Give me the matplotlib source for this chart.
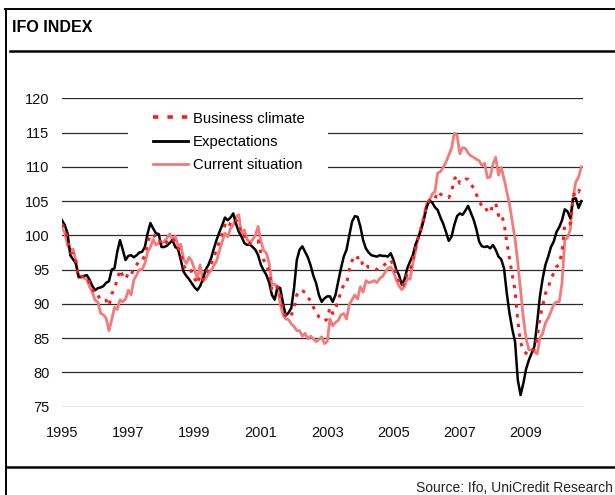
#!/usr/bin/env python3
# coding: utf-8

import numpy as np
import matplotlib
matplotlib.use('Agg')
import matplotlib.pyplot as plt
from matplotlib.lines import Line2D
from matplotlib.patches import Rectangle

plt.rcParams['font.family'] = ['Liberation Sans', 'DejaVu Sans']

# Monthly values, Jan 1995 .. Sep 2010
expectations = [
    102.2, 101.5, 100.3, 97.1, 96.5, 95.9, 94.0, 93.9, 94.1, 94.2, 93.5, 92.6,
    92.0, 92.3, 92.4, 92.6, 93.1, 93.3, 95.0, 95.2, 97.6, 99.3, 97.9, 96.4,
    97.0, 97.1, 96.8, 97.1, 97.5, 97.6, 98.3, 100.3, 101.8, 101.0, 100.3, 100.2,
    98.3, 98.3, 98.5, 98.9, 99.3, 98.3, 98.0, 96.4, 94.7, 94.1, 93.6, 93.0,
    92.4, 92.0, 92.6, 93.6, 95.0, 95.7, 96.7, 98.1, 99.4, 100.5, 101.5, 102.6,
    102.2, 102.6, 103.2, 101.7, 100.5, 99.8, 98.9, 98.6, 98.7, 98.3, 97.9, 97.1,
    95.7, 94.9, 94.2, 93.1, 91.3, 90.6, 92.5, 92.3, 90.1, 88.3, 88.7, 89.4,
    92.3, 96.4, 97.9, 98.4, 97.6, 96.8, 95.6, 94.1, 93.0, 91.3, 90.3, 90.8,
    91.1, 91.1, 90.3, 91.3, 93.3, 95.2, 96.9, 97.9, 100.0, 102.0, 102.8, 102.7,
    101.3, 99.3, 98.1, 97.5, 97.1, 97.0, 96.9, 97.1, 97.0, 97.0, 96.9, 97.4,
    96.4, 95.0, 94.2, 92.8, 93.6, 95.2, 96.2, 97.1, 98.7, 99.7, 100.8, 102.3,
    104.1, 105.1, 104.8, 104.1, 103.7, 102.6, 101.7, 100.5, 99.2, 99.8, 101.5, 102.8,
    103.2, 103.0, 103.6, 104.3, 103.3, 102.3, 100.9, 99.1, 98.4, 98.3, 98.4, 98.1,
    98.6, 97.9, 96.9, 96.5, 95.2, 91.6, 88.6, 86.3, 84.5, 78.9, 76.7, 78.4,
    80.5, 81.8, 82.8, 83.8, 87.2, 91.1, 93.7, 95.7, 96.9, 98.3, 99.1, 100.5,
    101.2, 102.2, 103.8, 103.5, 102.5, 105.3, 105.4, 104.0, 105.0,
]

current = [
    101.0, 100.4, 98.6, 97.9, 98.0, 96.4, 93.8, 94.0, 93.8, 93.5, 92.5, 91.7,
    90.5, 90.3, 88.6, 88.4, 87.9, 86.1, 87.7, 89.5, 89.2, 90.6, 90.3, 90.7,
    92.0, 91.3, 93.5, 94.2, 95.0, 95.0, 95.9, 97.6, 98.3, 99.4, 98.6, 98.9,
    98.8, 99.1, 99.6, 100.2, 99.4, 99.9, 98.4, 98.7, 96.5, 95.9, 96.8, 96.2,
    95.0, 93.7, 95.7, 93.3, 93.7, 94.4, 94.9, 95.6, 96.3, 97.8, 99.1, 100.3,
    99.8, 101.0, 101.5, 102.7, 103.0, 100.0, 100.8, 99.4, 98.9, 99.4, 100.0, 101.3,
    99.1, 97.8, 97.4, 95.9, 92.8, 92.9, 92.5, 90.0, 88.4, 87.8, 87.7, 87.1,
    86.7, 86.1, 86.1, 85.3, 85.7, 84.9, 85.3, 84.9, 84.5, 84.8, 85.2, 84.2,
    84.5, 87.8, 86.8, 87.3, 87.6, 88.4, 88.6, 87.8, 89.9, 90.6, 91.3, 90.7,
    92.5, 91.7, 93.4, 93.1, 93.2, 93.4, 93.1, 93.7, 94.0, 94.6, 95.2, 95.4,
    94.7, 93.5, 92.6, 92.1, 92.5, 93.7, 93.6, 95.9, 97.7, 99.8, 101.2, 102.8,
    104.6, 105.1, 106.0, 106.4, 109.1, 109.3, 109.9, 110.7, 111.7, 112.7, 114.9, 114.6,
    111.9, 112.8, 112.7, 112.0, 111.6, 111.4, 111.1, 110.9, 110.2, 110.5, 108.4, 108.5,
    110.4, 111.4, 108.8, 109.9, 108.3, 106.4, 104.5, 102.0, 99.5, 96.0, 92.0, 88.0,
    85.0, 83.3, 83.3, 83.0, 82.7, 85.0, 85.7, 87.2, 87.9, 88.9, 89.9, 90.3,
    90.3, 93.0, 99.3, 99.7, 100.8, 105.6, 107.8, 108.5, 110.0,
]

climate = [
    101.6, 101.0, 99.5, 97.5, 97.3, 96.2, 93.9, 94.0, 94.0, 93.9, 93.0, 92.2,
    91.3, 91.3, 90.5, 90.5, 90.5, 89.7, 91.4, 92.4, 93.4, 95.0, 94.1, 93.6,
    94.5, 94.2, 95.2, 95.7, 96.3, 96.3, 97.1, 99.0, 100.1, 100.2, 99.5, 99.6,
    98.6, 98.7, 99.1, 99.6, 99.4, 99.1, 98.2, 97.6, 95.6, 95.0, 95.2, 94.6,
    93.7, 92.9, 94.2, 93.5, 94.4, 95.1, 95.8, 96.9, 97.9, 99.2, 100.3, 101.5,
    101.0, 101.8, 102.4, 102.2, 101.8, 99.9, 99.9, 99.0, 98.8, 98.9, 99.0, 99.2,
    97.4, 96.4, 95.8, 94.5, 92.1, 91.8, 92.5, 91.2, 89.3, 88.1, 88.2, 88.3,
    89.5, 91.3, 92.0, 91.9, 91.7, 90.9, 90.5, 89.5, 88.8, 88.1, 87.8, 87.5,
    87.8, 89.5, 88.6, 89.3, 90.5, 91.8, 92.8, 92.9, 95.0, 96.3, 97.1, 96.7,
    96.9, 95.5, 95.8, 95.3, 95.2, 95.2, 95.0, 95.4, 95.5, 95.8, 96.1, 96.4,
    95.6, 94.3, 93.4, 92.5, 93.1, 94.5, 94.9, 96.5, 98.2, 99.8, 101.0, 102.6,
    104.4, 105.1, 105.4, 105.3, 106.4, 106.0, 105.8, 105.6, 105.5, 106.3, 108.2, 108.7,
    107.6, 107.9, 108.2, 108.2, 107.5, 106.9, 106.0, 105.0, 104.3, 104.4, 103.4, 103.3,
    104.5, 104.7, 102.9, 103.2, 101.8, 99.0, 96.6, 94.2, 92.0, 87.5, 84.4, 83.2,
    82.8, 82.6, 83.1, 83.4, 85.0, 88.1, 89.7, 91.5, 92.4, 93.6, 94.5, 95.4,
    95.8, 97.6, 101.6, 101.6, 101.7, 105.5, 106.6, 106.3, 107.5,
]

year_labels = ['1995', '1997', '1999', '2001', '2003', '2005', '2007', '2009']
y_ticks = [75, 80, 85, 90, 95, 100, 105, 110, 115, 120]

RED = '#ff1a1a'
PINK = '#f27b7b'

# ---------------------------------------------------------------------
W, H = 615, 495
fig = plt.figure(figsize=(W / 100, H / 100), dpi=100)
ax = fig.add_axes([62 / W, 1 - 406.7 / H, (583 - 62) / W, (406.7 - 98.3) / H])

x = np.arange(len(expectations))

ax.plot(x, current, color=PINK, lw=2.0, zorder=3, solid_joinstyle='round')
ax.plot(x, expectations, color='black', lw=1.8, zorder=4, solid_joinstyle='round')
ax.plot(x, climate, color=RED, lw=2.2, linestyle=(0, (1.1, 2.1)), zorder=5)

ax.set_xlim(0, 188.6)
ax.set_ylim(75, 120)
ax.set_yticks(y_ticks)
ax.set_xticks(np.arange(len(year_labels)) * 24)
ax.set_xticklabels(year_labels)
ax.yaxis.grid(True, color='#2a2a2a', lw=0.9)
ax.set_axisbelow(True)
for s in ax.spines.values():
    s.set_visible(False)
ax.tick_params(axis='both', length=0, labelsize=10.5, colors='#111111')
ax.tick_params(axis='x', pad=14)
ax.tick_params(axis='y', pad=9)

# legend area is blanked out like in the original
ax.add_patch(Rectangle((0.127, 0.74), 0.384, 0.245, transform=ax.transAxes,
                       facecolor='white', edgecolor='none', zorder=2))
handles = [
    Line2D([], [], color=RED, lw=2.6, linestyle=(0, (1.5, 2.5))),
    Line2D([], [], color='black', lw=2.0),
    Line2D([], [], color=PINK, lw=2.0),
]
ax.legend(handles, ['Business climate', 'Expectations', 'Current situation'],
          loc='upper left', bbox_to_anchor=(0.1747, 0.957), frameon=False,
          borderaxespad=0, borderpad=0, handlelength=2.35, handletextpad=0.35,
          labelspacing=0.62, fontsize=10.7)

# frame and title
def hline(y, x0, x1, lw):
    fig.add_artist(Line2D([x0 / W, x1 / W], [1 - y / H, 1 - y / H],
                          color='black', lw=lw))

hline(9, 5, W, 1.4)
hline(50.5, 10, W, 1.8)
hline(467, 7, W, 1.8)
fig.add_artist(Line2D([6 / W, 6 / W], [1 - 9 / H, 0], color='black', lw=1.4))

fig.text(12 / W, 1 - 27 / H, 'IFO INDEX', fontsize=11.5, fontweight='bold',
         va='center', ha='left')
fig.text(613 / W, 1 - 488 / H, 'Source: Ifo, UniCredit Research', fontsize=10,
         va='center', ha='right', color='#222222')

fig.savefig('out.png', dpi=100)
